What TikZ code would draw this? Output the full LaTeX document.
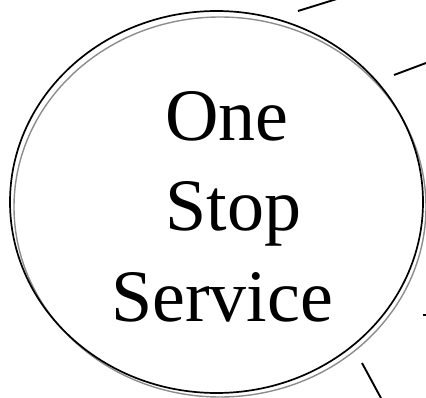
\documentclass[tikz,border=0pt]{standalone}
\usepackage{fontspec}
\setmainfont{Liberation Serif}
\begin{document}
\begin{tikzpicture}[x=1pt,y=-1pt,
  blackring/.style={draw=black,line width=1.7pt},
  grayring/.style={draw=black!45,line width=1.4pt},
  spoke/.style={draw=black,line width=1.9pt},
  word/.style={inner sep=0pt,anchor=base,font=\fontsize{74}{86}\selectfont}]
\useasboundingbox (0,0) rectangle (426,398);
\draw[grayring] (220,207) ellipse [x radius=206, y radius=190];
\draw[blackring] (216.5,202) ellipse [x radius=206.5, y radius=191];
\node[word] (one) at (227,141) {One};
\node[word] (stop) at (233.5,231) {Stop};
\node[word] (service) at (222,321) {Service};
\coordinate (s1a) at (298,11);
\coordinate (s1b) at (340,-2);
\coordinate (s2a) at (394,75);
\coordinate (s2b) at (430,61.5);
\coordinate (s3a) at (423,315);
\coordinate (s3b) at (428,315);
\coordinate (s4a) at (362,363);
\coordinate (s4b) at (382,400);
\draw[spoke] (s1a) -- (s1b);
\draw[spoke] (s2a) -- (s2b);
\draw[spoke] (s3a) -- (s3b);
\draw[spoke] (s4a) -- (s4b);
\end{tikzpicture}
\end{document}
